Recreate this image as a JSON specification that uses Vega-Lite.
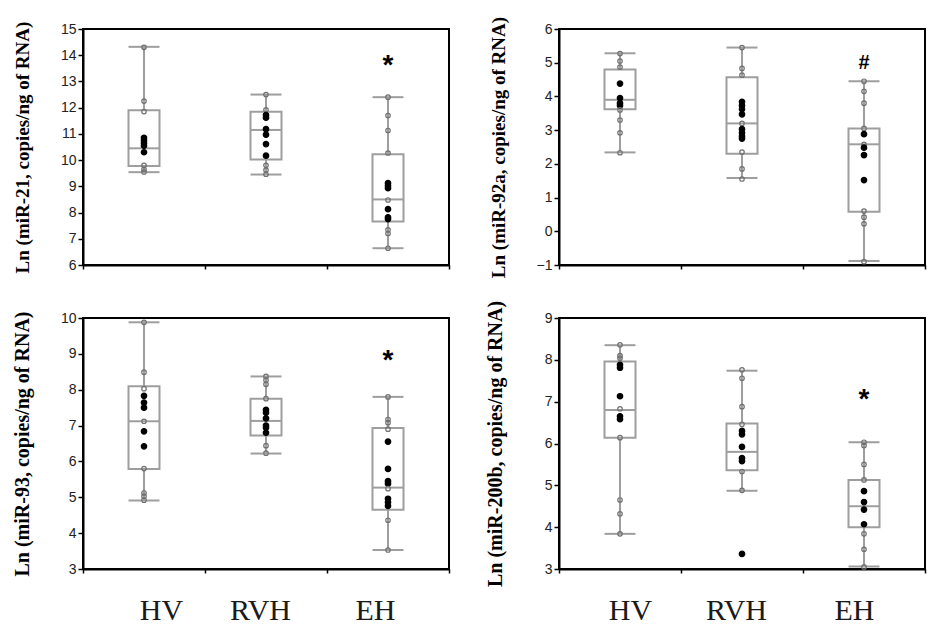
{
  "$schema": "https://vega.github.io/schema/vega-lite/v6.json",
  "padding": {"left": 10, "top": 15, "right": 0, "bottom": 0},
  "background": "#ffffff",
  "datasets": {
    "pts": [
      {"panel": "miR-21", "group": "HV", "value": 14.3, "kind": "o"},
      {"panel": "miR-21", "group": "HV", "value": 12.25, "kind": "o"},
      {"panel": "miR-21", "group": "HV", "value": 11.85, "kind": "o"},
      {"panel": "miR-21", "group": "HV", "value": 10.85, "kind": "b"},
      {"panel": "miR-21", "group": "HV", "value": 10.75, "kind": "b"},
      {"panel": "miR-21", "group": "HV", "value": 10.65, "kind": "b"},
      {"panel": "miR-21", "group": "HV", "value": 10.55, "kind": "b"},
      {"panel": "miR-21", "group": "HV", "value": 10.3, "kind": "b"},
      {"panel": "miR-21", "group": "HV", "value": 9.8, "kind": "o"},
      {"panel": "miR-21", "group": "HV", "value": 9.65, "kind": "o"},
      {"panel": "miR-21", "group": "HV", "value": 9.55, "kind": "o"},
      {"panel": "miR-21", "group": "RVH", "value": 12.5, "kind": "o"},
      {"panel": "miR-21", "group": "RVH", "value": 11.92, "kind": "o"},
      {"panel": "miR-21", "group": "RVH", "value": 11.72, "kind": "b"},
      {"panel": "miR-21", "group": "RVH", "value": 11.62, "kind": "b"},
      {"panel": "miR-21", "group": "RVH", "value": 11.18, "kind": "b"},
      {"panel": "miR-21", "group": "RVH", "value": 10.97, "kind": "b"},
      {"panel": "miR-21", "group": "RVH", "value": 10.61, "kind": "b"},
      {"panel": "miR-21", "group": "RVH", "value": 10.17, "kind": "b"},
      {"panel": "miR-21", "group": "RVH", "value": 9.8, "kind": "o"},
      {"panel": "miR-21", "group": "RVH", "value": 9.62, "kind": "o"},
      {"panel": "miR-21", "group": "RVH", "value": 9.46, "kind": "o"},
      {"panel": "miR-21", "group": "EH", "value": 12.4, "kind": "o"},
      {"panel": "miR-21", "group": "EH", "value": 11.7, "kind": "o"},
      {"panel": "miR-21", "group": "EH", "value": 11.13, "kind": "o"},
      {"panel": "miR-21", "group": "EH", "value": 10.27, "kind": "o"},
      {"panel": "miR-21", "group": "EH", "value": 9.12, "kind": "b"},
      {"panel": "miR-21", "group": "EH", "value": 9.02, "kind": "b"},
      {"panel": "miR-21", "group": "EH", "value": 8.93, "kind": "b"},
      {"panel": "miR-21", "group": "EH", "value": 8.48, "kind": "o"},
      {"panel": "miR-21", "group": "EH", "value": 8.13, "kind": "b"},
      {"panel": "miR-21", "group": "EH", "value": 7.82, "kind": "b"},
      {"panel": "miR-21", "group": "EH", "value": 7.75, "kind": "b"},
      {"panel": "miR-21", "group": "EH", "value": 7.34, "kind": "o"},
      {"panel": "miR-21", "group": "EH", "value": 7.2, "kind": "o"},
      {"panel": "miR-21", "group": "EH", "value": 6.64, "kind": "o"},
      {"panel": "miR-92a", "group": "HV", "value": 5.27, "kind": "o"},
      {"panel": "miR-92a", "group": "HV", "value": 5.05, "kind": "o"},
      {"panel": "miR-92a", "group": "HV", "value": 4.87, "kind": "o"},
      {"panel": "miR-92a", "group": "HV", "value": 4.38, "kind": "b"},
      {"panel": "miR-92a", "group": "HV", "value": 3.95, "kind": "b"},
      {"panel": "miR-92a", "group": "HV", "value": 3.8, "kind": "b"},
      {"panel": "miR-92a", "group": "HV", "value": 3.73, "kind": "b"},
      {"panel": "miR-92a", "group": "HV", "value": 3.6, "kind": "o"},
      {"panel": "miR-92a", "group": "HV", "value": 3.3, "kind": "o"},
      {"panel": "miR-92a", "group": "HV", "value": 2.92, "kind": "o"},
      {"panel": "miR-92a", "group": "HV", "value": 2.33, "kind": "o"},
      {"panel": "miR-92a", "group": "RVH", "value": 5.45, "kind": "o"},
      {"panel": "miR-92a", "group": "RVH", "value": 4.83, "kind": "o"},
      {"panel": "miR-92a", "group": "RVH", "value": 4.63, "kind": "o"},
      {"panel": "miR-92a", "group": "RVH", "value": 3.84, "kind": "b"},
      {"panel": "miR-92a", "group": "RVH", "value": 3.73, "kind": "b"},
      {"panel": "miR-92a", "group": "RVH", "value": 3.62, "kind": "b"},
      {"panel": "miR-92a", "group": "RVH", "value": 3.47, "kind": "b"},
      {"panel": "miR-92a", "group": "RVH", "value": 3.2, "kind": "o"},
      {"panel": "miR-92a", "group": "RVH", "value": 3.03, "kind": "b"},
      {"panel": "miR-92a", "group": "RVH", "value": 2.92, "kind": "b"},
      {"panel": "miR-92a", "group": "RVH", "value": 2.82, "kind": "b"},
      {"panel": "miR-92a", "group": "RVH", "value": 2.75, "kind": "b"},
      {"panel": "miR-92a", "group": "RVH", "value": 2.35, "kind": "o"},
      {"panel": "miR-92a", "group": "RVH", "value": 1.85, "kind": "o"},
      {"panel": "miR-92a", "group": "RVH", "value": 1.55, "kind": "o"},
      {"panel": "miR-92a", "group": "EH", "value": 4.45, "kind": "o"},
      {"panel": "miR-92a", "group": "EH", "value": 4.15, "kind": "o"},
      {"panel": "miR-92a", "group": "EH", "value": 3.8, "kind": "o"},
      {"panel": "miR-92a", "group": "EH", "value": 3.05, "kind": "o"},
      {"panel": "miR-92a", "group": "EH", "value": 2.88, "kind": "b"},
      {"panel": "miR-92a", "group": "EH", "value": 2.58, "kind": "o"},
      {"panel": "miR-92a", "group": "EH", "value": 2.48, "kind": "b"},
      {"panel": "miR-92a", "group": "EH", "value": 2.26, "kind": "b"},
      {"panel": "miR-92a", "group": "EH", "value": 1.52, "kind": "b"},
      {"panel": "miR-92a", "group": "EH", "value": 0.6, "kind": "o"},
      {"panel": "miR-92a", "group": "EH", "value": 0.42, "kind": "o"},
      {"panel": "miR-92a", "group": "EH", "value": 0.22, "kind": "o"},
      {"panel": "miR-92a", "group": "EH", "value": -0.9, "kind": "o"},
      {"panel": "miR-93", "group": "HV", "value": 9.88, "kind": "o"},
      {"panel": "miR-93", "group": "HV", "value": 8.49, "kind": "o"},
      {"panel": "miR-93", "group": "HV", "value": 8.03, "kind": "o"},
      {"panel": "miR-93", "group": "HV", "value": 7.83, "kind": "b"},
      {"panel": "miR-93", "group": "HV", "value": 7.64, "kind": "b"},
      {"panel": "miR-93", "group": "HV", "value": 7.5, "kind": "b"},
      {"panel": "miR-93", "group": "HV", "value": 7.12, "kind": "o"},
      {"panel": "miR-93", "group": "HV", "value": 6.84, "kind": "b"},
      {"panel": "miR-93", "group": "HV", "value": 6.42, "kind": "b"},
      {"panel": "miR-93", "group": "HV", "value": 5.8, "kind": "o"},
      {"panel": "miR-93", "group": "HV", "value": 5.12, "kind": "o"},
      {"panel": "miR-93", "group": "HV", "value": 5.03, "kind": "o"},
      {"panel": "miR-93", "group": "HV", "value": 4.92, "kind": "o"},
      {"panel": "miR-93", "group": "RVH", "value": 8.37, "kind": "o"},
      {"panel": "miR-93", "group": "RVH", "value": 8.27, "kind": "o"},
      {"panel": "miR-93", "group": "RVH", "value": 8.15, "kind": "o"},
      {"panel": "miR-93", "group": "RVH", "value": 7.75, "kind": "o"},
      {"panel": "miR-93", "group": "RVH", "value": 7.44, "kind": "b"},
      {"panel": "miR-93", "group": "RVH", "value": 7.36, "kind": "b"},
      {"panel": "miR-93", "group": "RVH", "value": 7.2, "kind": "b"},
      {"panel": "miR-93", "group": "RVH", "value": 7.0, "kind": "b"},
      {"panel": "miR-93", "group": "RVH", "value": 6.94, "kind": "b"},
      {"panel": "miR-93", "group": "RVH", "value": 6.8, "kind": "b"},
      {"panel": "miR-93", "group": "RVH", "value": 6.44, "kind": "o"},
      {"panel": "miR-93", "group": "RVH", "value": 6.23, "kind": "o"},
      {"panel": "miR-93", "group": "EH", "value": 7.8, "kind": "o"},
      {"panel": "miR-93", "group": "EH", "value": 7.17, "kind": "o"},
      {"panel": "miR-93", "group": "EH", "value": 7.08, "kind": "o"},
      {"panel": "miR-93", "group": "EH", "value": 6.9, "kind": "o"},
      {"panel": "miR-93", "group": "EH", "value": 6.55, "kind": "b"},
      {"panel": "miR-93", "group": "EH", "value": 5.79, "kind": "b"},
      {"panel": "miR-93", "group": "EH", "value": 5.45, "kind": "b"},
      {"panel": "miR-93", "group": "EH", "value": 5.38, "kind": "b"},
      {"panel": "miR-93", "group": "EH", "value": 5.24, "kind": "o"},
      {"panel": "miR-93", "group": "EH", "value": 4.96, "kind": "b"},
      {"panel": "miR-93", "group": "EH", "value": 4.86, "kind": "b"},
      {"panel": "miR-93", "group": "EH", "value": 4.76, "kind": "b"},
      {"panel": "miR-93", "group": "EH", "value": 4.36, "kind": "o"},
      {"panel": "miR-93", "group": "EH", "value": 3.53, "kind": "o"},
      {"panel": "miR-200b", "group": "HV", "value": 8.36, "kind": "o"},
      {"panel": "miR-200b", "group": "HV", "value": 8.1, "kind": "o"},
      {"panel": "miR-200b", "group": "HV", "value": 8.04, "kind": "o"},
      {"panel": "miR-200b", "group": "HV", "value": 7.88, "kind": "b"},
      {"panel": "miR-200b", "group": "HV", "value": 7.81, "kind": "b"},
      {"panel": "miR-200b", "group": "HV", "value": 7.13, "kind": "b"},
      {"panel": "miR-200b", "group": "HV", "value": 6.83, "kind": "o"},
      {"panel": "miR-200b", "group": "HV", "value": 6.65, "kind": "b"},
      {"panel": "miR-200b", "group": "HV", "value": 6.58, "kind": "b"},
      {"panel": "miR-200b", "group": "HV", "value": 6.14, "kind": "o"},
      {"panel": "miR-200b", "group": "HV", "value": 4.65, "kind": "o"},
      {"panel": "miR-200b", "group": "HV", "value": 4.32, "kind": "o"},
      {"panel": "miR-200b", "group": "HV", "value": 3.84, "kind": "o"},
      {"panel": "miR-200b", "group": "RVH", "value": 7.76, "kind": "o"},
      {"panel": "miR-200b", "group": "RVH", "value": 7.56, "kind": "o"},
      {"panel": "miR-200b", "group": "RVH", "value": 6.88, "kind": "o"},
      {"panel": "miR-200b", "group": "RVH", "value": 6.46, "kind": "o"},
      {"panel": "miR-200b", "group": "RVH", "value": 6.3, "kind": "b"},
      {"panel": "miR-200b", "group": "RVH", "value": 6.22, "kind": "b"},
      {"panel": "miR-200b", "group": "RVH", "value": 5.92, "kind": "b"},
      {"panel": "miR-200b", "group": "RVH", "value": 5.65, "kind": "b"},
      {"panel": "miR-200b", "group": "RVH", "value": 5.58, "kind": "b"},
      {"panel": "miR-200b", "group": "RVH", "value": 5.33, "kind": "o"},
      {"panel": "miR-200b", "group": "RVH", "value": 4.88, "kind": "o"},
      {"panel": "miR-200b", "group": "RVH", "value": 3.36, "kind": "b"},
      {"panel": "miR-200b", "group": "EH", "value": 6.03, "kind": "o"},
      {"panel": "miR-200b", "group": "EH", "value": 5.95, "kind": "o"},
      {"panel": "miR-200b", "group": "EH", "value": 5.5, "kind": "o"},
      {"panel": "miR-200b", "group": "EH", "value": 5.13, "kind": "o"},
      {"panel": "miR-200b", "group": "EH", "value": 4.86, "kind": "b"},
      {"panel": "miR-200b", "group": "EH", "value": 4.6, "kind": "b"},
      {"panel": "miR-200b", "group": "EH", "value": 4.42, "kind": "b"},
      {"panel": "miR-200b", "group": "EH", "value": 4.07, "kind": "b"},
      {"panel": "miR-200b", "group": "EH", "value": 3.84, "kind": "o"},
      {"panel": "miR-200b", "group": "EH", "value": 3.47, "kind": "o"},
      {"panel": "miR-200b", "group": "EH", "value": 3.05, "kind": "o"}
    ],
    "box": [
      {"panel": "miR-21", "group": "HV", "low": 9.54, "q1": 9.78, "median": 10.45, "q3": 11.9, "high": 14.32},
      {"panel": "miR-21", "group": "RVH", "low": 9.45, "q1": 10.02, "median": 11.15, "q3": 11.84, "high": 12.5},
      {"panel": "miR-21", "group": "EH", "low": 6.64, "q1": 7.66, "median": 8.5, "q3": 10.22, "high": 12.4},
      {"panel": "miR-92a", "group": "HV", "low": 2.34, "q1": 3.62, "median": 3.9, "q3": 4.8, "high": 5.28},
      {"panel": "miR-92a", "group": "RVH", "low": 1.58, "q1": 2.3, "median": 3.2, "q3": 4.57, "high": 5.45},
      {"panel": "miR-92a", "group": "EH", "low": -0.88, "q1": 0.58, "median": 2.58, "q3": 3.05, "high": 4.45},
      {"panel": "miR-93", "group": "HV", "low": 4.91, "q1": 5.79, "median": 7.12, "q3": 8.1, "high": 9.88},
      {"panel": "miR-93", "group": "RVH", "low": 6.22, "q1": 6.72, "median": 7.13, "q3": 7.75, "high": 8.37},
      {"panel": "miR-93", "group": "EH", "low": 3.53, "q1": 4.65, "median": 5.27, "q3": 6.93, "high": 7.8},
      {"panel": "miR-200b", "group": "HV", "low": 3.84, "q1": 6.14, "median": 6.8, "q3": 7.96, "high": 8.35},
      {"panel": "miR-200b", "group": "RVH", "low": 4.87, "q1": 5.36, "median": 5.8, "q3": 6.48, "high": 7.74},
      {"panel": "miR-200b", "group": "EH", "low": 3.06, "q1": 4.0, "median": 4.5, "q3": 5.13, "high": 6.03}
    ],
    "ann": [
      {"panel": "miR-21", "group": "EH", "value": 13.89, "label": "*"},
      {"panel": "miR-92a", "group": "EH", "value": 5.03, "label": "#"},
      {"panel": "miR-93", "group": "EH", "value": 9.02, "label": "*"},
      {"panel": "miR-200b", "group": "EH", "value": 7.24, "label": "*"}
    ]
  },
  "columns": 2,
  "bounds": "flush",
  "align": "each",
  "spacing": {"row": 53, "column": 110},
  "concat": [
    {
      "width": 366, "height": 236,
      "encoding": {"x": {"field": "group", "type": "nominal", "sort": ["HV", "RVH", "EH"], "scale": {"domain": ["HV", "RVH", "EH"], "paddingInner": 0, "paddingOuter": 0}, "axis": {"title": null, "labels": false, "tickBand": "extent", "tickSize": 4}}},
      "layer": [
        {"data": {"name": "box"}, "transform": [{"filter": "datum.panel === 'miR-21'"}], "mark": {"type": "rule", "color": "#9e9e9e", "strokeWidth": 2},
         "encoding": {"y": {"field": "low", "type": "quantitative", "title": "Ln (miR-21, copies/ng of RNA)", "scale": {"domain": [6, 15], "nice": false, "zero": false}, "axis": {"values": [6, 7, 8, 9, 10, 11, 12, 13, 14, 15], "titleFontSize": 19}}, "y2": {"field": "high"}}},
        {"data": {"name": "box"}, "transform": [{"filter": "datum.panel === 'miR-21'"}], "mark": {"type": "bar", "width": 31, "fill": "#ffffff", "stroke": "#9e9e9e", "strokeWidth": 2},
         "encoding": {"y": {"field": "q1", "type": "quantitative", "title": "Ln (miR-21, copies/ng of RNA)", "axis": {"values": [6, 7, 8, 9, 10, 11, 12, 13, 14, 15], "titleFontSize": 19}}, "y2": {"field": "q3"}}},
        {"data": {"name": "box"}, "transform": [{"filter": "datum.panel === 'miR-21'"}], "mark": {"type": "tick", "size": 31, "thickness": 2, "color": "#9e9e9e", "opacity": 1},
         "encoding": {"y": {"field": "median", "type": "quantitative", "title": "Ln (miR-21, copies/ng of RNA)", "axis": {"values": [6, 7, 8, 9, 10, 11, 12, 13, 14, 15], "titleFontSize": 19}}}},
        {"data": {"name": "box"}, "transform": [{"filter": "datum.panel === 'miR-21'"}], "mark": {"type": "tick", "size": 31, "thickness": 2, "color": "#9e9e9e", "opacity": 1},
         "encoding": {"y": {"field": "low", "type": "quantitative", "title": "Ln (miR-21, copies/ng of RNA)", "axis": {"values": [6, 7, 8, 9, 10, 11, 12, 13, 14, 15], "titleFontSize": 19}}}},
        {"data": {"name": "box"}, "transform": [{"filter": "datum.panel === 'miR-21'"}], "mark": {"type": "tick", "size": 31, "thickness": 2, "color": "#9e9e9e", "opacity": 1},
         "encoding": {"y": {"field": "high", "type": "quantitative", "title": "Ln (miR-21, copies/ng of RNA)", "axis": {"values": [6, 7, 8, 9, 10, 11, 12, 13, 14, 15], "titleFontSize": 19}}}},
        {"data": {"name": "pts"}, "transform": [{"filter": "datum.panel === 'miR-21'"}], "mark": {"type": "point", "shape": "circle", "strokeWidth": 1.2, "opacity": 1},
         "encoding": {"y": {"field": "value", "type": "quantitative", "title": "Ln (miR-21, copies/ng of RNA)", "axis": {"values": [6, 7, 8, 9, 10, 11, 12, 13, 14, 15], "titleFontSize": 19}},
           "fill": {"field": "kind", "type": "nominal", "scale": {"domain": ["b", "o"], "range": ["#000000", "transparent"]}, "legend": null},
           "stroke": {"field": "kind", "type": "nominal", "scale": {"domain": ["b", "o"], "range": ["#000000", "#707070"]}, "legend": null},
           "size": {"field": "kind", "type": "nominal", "scale": {"domain": ["b", "o"], "range": [30, 20]}, "legend": null}}},
        {"data": {"name": "ann"}, "transform": [{"filter": "datum.panel === 'miR-21'"}], "mark": {"type": "text", "font": "Liberation Sans", "fontSize": 28, "fontWeight": "bold", "baseline": "alphabetic", "dy": 16, "color": "#000000"},
         "encoding": {"y": {"field": "value", "type": "quantitative", "title": "Ln (miR-21, copies/ng of RNA)", "axis": {"values": [6, 7, 8, 9, 10, 11, 12, 13, 14, 15], "titleFontSize": 19}}, "text": {"field": "label"}}}
      ]
    },
    {
      "width": 366, "height": 236,
      "encoding": {"x": {"field": "group", "type": "nominal", "sort": ["HV", "RVH", "EH"], "scale": {"domain": ["HV", "RVH", "EH"], "paddingInner": 0, "paddingOuter": 0}, "axis": {"title": null, "labels": false, "tickBand": "extent", "tickSize": 4}}},
      "layer": [
        {"data": {"name": "box"}, "transform": [{"filter": "datum.panel === 'miR-92a'"}], "mark": {"type": "rule", "color": "#9e9e9e", "strokeWidth": 2},
         "encoding": {"y": {"field": "low", "type": "quantitative", "title": "Ln (miR-92a, copies/ng of RNA)", "scale": {"domain": [-1, 6], "nice": false, "zero": false}, "axis": {"values": [-1, 0, 1, 2, 3, 4, 5, 6], "titleFontSize": 19}}, "y2": {"field": "high"}}},
        {"data": {"name": "box"}, "transform": [{"filter": "datum.panel === 'miR-92a'"}], "mark": {"type": "bar", "width": 31, "fill": "#ffffff", "stroke": "#9e9e9e", "strokeWidth": 2},
         "encoding": {"y": {"field": "q1", "type": "quantitative", "title": "Ln (miR-92a, copies/ng of RNA)", "axis": {"values": [-1, 0, 1, 2, 3, 4, 5, 6], "titleFontSize": 19}}, "y2": {"field": "q3"}}},
        {"data": {"name": "box"}, "transform": [{"filter": "datum.panel === 'miR-92a'"}], "mark": {"type": "tick", "size": 31, "thickness": 2, "color": "#9e9e9e", "opacity": 1},
         "encoding": {"y": {"field": "median", "type": "quantitative", "title": "Ln (miR-92a, copies/ng of RNA)", "axis": {"values": [-1, 0, 1, 2, 3, 4, 5, 6], "titleFontSize": 19}}}},
        {"data": {"name": "box"}, "transform": [{"filter": "datum.panel === 'miR-92a'"}], "mark": {"type": "tick", "size": 31, "thickness": 2, "color": "#9e9e9e", "opacity": 1},
         "encoding": {"y": {"field": "low", "type": "quantitative", "title": "Ln (miR-92a, copies/ng of RNA)", "axis": {"values": [-1, 0, 1, 2, 3, 4, 5, 6], "titleFontSize": 19}}}},
        {"data": {"name": "box"}, "transform": [{"filter": "datum.panel === 'miR-92a'"}], "mark": {"type": "tick", "size": 31, "thickness": 2, "color": "#9e9e9e", "opacity": 1},
         "encoding": {"y": {"field": "high", "type": "quantitative", "title": "Ln (miR-92a, copies/ng of RNA)", "axis": {"values": [-1, 0, 1, 2, 3, 4, 5, 6], "titleFontSize": 19}}}},
        {"data": {"name": "pts"}, "transform": [{"filter": "datum.panel === 'miR-92a'"}], "mark": {"type": "point", "shape": "circle", "strokeWidth": 1.2, "opacity": 1},
         "encoding": {"y": {"field": "value", "type": "quantitative", "title": "Ln (miR-92a, copies/ng of RNA)", "axis": {"values": [-1, 0, 1, 2, 3, 4, 5, 6], "titleFontSize": 19}},
           "fill": {"field": "kind", "type": "nominal", "scale": {"domain": ["b", "o"], "range": ["#000000", "transparent"]}, "legend": null},
           "stroke": {"field": "kind", "type": "nominal", "scale": {"domain": ["b", "o"], "range": ["#000000", "#707070"]}, "legend": null},
           "size": {"field": "kind", "type": "nominal", "scale": {"domain": ["b", "o"], "range": [30, 20]}, "legend": null}}},
        {"data": {"name": "ann"}, "transform": [{"filter": "datum.panel === 'miR-92a'"}], "mark": {"type": "text", "font": "Liberation Sans", "fontSize": 20, "fontWeight": "bold", "baseline": "alphabetic", "dy": 7, "color": "#000000"},
         "encoding": {"y": {"field": "value", "type": "quantitative", "title": "Ln (miR-92a, copies/ng of RNA)", "axis": {"values": [-1, 0, 1, 2, 3, 4, 5, 6], "titleFontSize": 19}}, "text": {"field": "label"}}}
      ]
    },
    {
      "width": 366, "height": 251,
      "encoding": {"x": {"field": "group", "type": "nominal", "sort": ["HV", "RVH", "EH"], "scale": {"domain": ["HV", "RVH", "EH"], "paddingInner": 0, "paddingOuter": 0}, "axis": {"title": null, "labels": true, "labelAngle": 0, "labelFont": "Liberation Serif", "labelFontSize": 30, "labelColor": "#1a1a1a", "labelPadding": 22, "labelOffset": {"condition": [{"test": "datum.value === 'HV'", "value": 17}, {"test": "datum.value === 'RVH'", "value": -6}], "value": -13}, "tickBand": "extent", "tickSize": 4}}},
      "layer": [
        {"data": {"name": "box"}, "transform": [{"filter": "datum.panel === 'miR-93'"}], "mark": {"type": "rule", "color": "#9e9e9e", "strokeWidth": 2},
         "encoding": {"y": {"field": "low", "type": "quantitative", "title": "Ln (miR-93, copies/ng of RNA)", "scale": {"domain": [3, 10], "nice": false, "zero": false}, "axis": {"values": [3, 4, 5, 6, 7, 8, 9, 10], "titleFontSize": 20}}, "y2": {"field": "high"}}},
        {"data": {"name": "box"}, "transform": [{"filter": "datum.panel === 'miR-93'"}], "mark": {"type": "bar", "width": 31, "fill": "#ffffff", "stroke": "#9e9e9e", "strokeWidth": 2},
         "encoding": {"y": {"field": "q1", "type": "quantitative", "title": "Ln (miR-93, copies/ng of RNA)", "axis": {"values": [3, 4, 5, 6, 7, 8, 9, 10], "titleFontSize": 20}}, "y2": {"field": "q3"}}},
        {"data": {"name": "box"}, "transform": [{"filter": "datum.panel === 'miR-93'"}], "mark": {"type": "tick", "size": 31, "thickness": 2, "color": "#9e9e9e", "opacity": 1},
         "encoding": {"y": {"field": "median", "type": "quantitative", "title": "Ln (miR-93, copies/ng of RNA)", "axis": {"values": [3, 4, 5, 6, 7, 8, 9, 10], "titleFontSize": 20}}}},
        {"data": {"name": "box"}, "transform": [{"filter": "datum.panel === 'miR-93'"}], "mark": {"type": "tick", "size": 31, "thickness": 2, "color": "#9e9e9e", "opacity": 1},
         "encoding": {"y": {"field": "low", "type": "quantitative", "title": "Ln (miR-93, copies/ng of RNA)", "axis": {"values": [3, 4, 5, 6, 7, 8, 9, 10], "titleFontSize": 20}}}},
        {"data": {"name": "box"}, "transform": [{"filter": "datum.panel === 'miR-93'"}], "mark": {"type": "tick", "size": 31, "thickness": 2, "color": "#9e9e9e", "opacity": 1},
         "encoding": {"y": {"field": "high", "type": "quantitative", "title": "Ln (miR-93, copies/ng of RNA)", "axis": {"values": [3, 4, 5, 6, 7, 8, 9, 10], "titleFontSize": 20}}}},
        {"data": {"name": "pts"}, "transform": [{"filter": "datum.panel === 'miR-93'"}], "mark": {"type": "point", "shape": "circle", "strokeWidth": 1.2, "opacity": 1},
         "encoding": {"y": {"field": "value", "type": "quantitative", "title": "Ln (miR-93, copies/ng of RNA)", "axis": {"values": [3, 4, 5, 6, 7, 8, 9, 10], "titleFontSize": 20}},
           "fill": {"field": "kind", "type": "nominal", "scale": {"domain": ["b", "o"], "range": ["#000000", "transparent"]}, "legend": null},
           "stroke": {"field": "kind", "type": "nominal", "scale": {"domain": ["b", "o"], "range": ["#000000", "#707070"]}, "legend": null},
           "size": {"field": "kind", "type": "nominal", "scale": {"domain": ["b", "o"], "range": [30, 20]}, "legend": null}}},
        {"data": {"name": "ann"}, "transform": [{"filter": "datum.panel === 'miR-93'"}], "mark": {"type": "text", "font": "Liberation Sans", "fontSize": 28, "fontWeight": "bold", "baseline": "alphabetic", "dy": 16, "color": "#000000"},
         "encoding": {"y": {"field": "value", "type": "quantitative", "title": "Ln (miR-93, copies/ng of RNA)", "axis": {"values": [3, 4, 5, 6, 7, 8, 9, 10], "titleFontSize": 20}}, "text": {"field": "label"}}}
      ]
    },
    {
      "width": 366, "height": 251,
      "encoding": {"x": {"field": "group", "type": "nominal", "sort": ["HV", "RVH", "EH"], "scale": {"domain": ["HV", "RVH", "EH"], "paddingInner": 0, "paddingOuter": 0}, "axis": {"title": null, "labels": true, "labelAngle": 0, "labelFont": "Liberation Serif", "labelFontSize": 30, "labelColor": "#1a1a1a", "labelPadding": 22, "labelOffset": {"condition": [{"test": "datum.value === 'HV'", "value": 10}, {"test": "datum.value === 'RVH'", "value": -6}], "value": -10}, "tickBand": "extent", "tickSize": 4}}},
      "layer": [
        {"data": {"name": "box"}, "transform": [{"filter": "datum.panel === 'miR-200b'"}], "mark": {"type": "rule", "color": "#9e9e9e", "strokeWidth": 2},
         "encoding": {"y": {"field": "low", "type": "quantitative", "title": "Ln (miR-200b, copies/ng of RNA)", "scale": {"domain": [3, 9], "nice": false, "zero": false}, "axis": {"values": [3, 4, 5, 6, 7, 8, 9], "titleFontSize": 20, "titleX": -58}}, "y2": {"field": "high"}}},
        {"data": {"name": "box"}, "transform": [{"filter": "datum.panel === 'miR-200b'"}], "mark": {"type": "bar", "width": 31, "fill": "#ffffff", "stroke": "#9e9e9e", "strokeWidth": 2},
         "encoding": {"y": {"field": "q1", "type": "quantitative", "title": "Ln (miR-200b, copies/ng of RNA)", "axis": {"values": [3, 4, 5, 6, 7, 8, 9], "titleFontSize": 20, "titleX": -58}}, "y2": {"field": "q3"}}},
        {"data": {"name": "box"}, "transform": [{"filter": "datum.panel === 'miR-200b'"}], "mark": {"type": "tick", "size": 31, "thickness": 2, "color": "#9e9e9e", "opacity": 1},
         "encoding": {"y": {"field": "median", "type": "quantitative", "title": "Ln (miR-200b, copies/ng of RNA)", "axis": {"values": [3, 4, 5, 6, 7, 8, 9], "titleFontSize": 20, "titleX": -58}}}},
        {"data": {"name": "box"}, "transform": [{"filter": "datum.panel === 'miR-200b'"}], "mark": {"type": "tick", "size": 31, "thickness": 2, "color": "#9e9e9e", "opacity": 1},
         "encoding": {"y": {"field": "low", "type": "quantitative", "title": "Ln (miR-200b, copies/ng of RNA)", "axis": {"values": [3, 4, 5, 6, 7, 8, 9], "titleFontSize": 20, "titleX": -58}}}},
        {"data": {"name": "box"}, "transform": [{"filter": "datum.panel === 'miR-200b'"}], "mark": {"type": "tick", "size": 31, "thickness": 2, "color": "#9e9e9e", "opacity": 1},
         "encoding": {"y": {"field": "high", "type": "quantitative", "title": "Ln (miR-200b, copies/ng of RNA)", "axis": {"values": [3, 4, 5, 6, 7, 8, 9], "titleFontSize": 20, "titleX": -58}}}},
        {"data": {"name": "pts"}, "transform": [{"filter": "datum.panel === 'miR-200b'"}], "mark": {"type": "point", "shape": "circle", "strokeWidth": 1.2, "opacity": 1},
         "encoding": {"y": {"field": "value", "type": "quantitative", "title": "Ln (miR-200b, copies/ng of RNA)", "axis": {"values": [3, 4, 5, 6, 7, 8, 9], "titleFontSize": 20, "titleX": -58}},
           "fill": {"field": "kind", "type": "nominal", "scale": {"domain": ["b", "o"], "range": ["#000000", "transparent"]}, "legend": null},
           "stroke": {"field": "kind", "type": "nominal", "scale": {"domain": ["b", "o"], "range": ["#000000", "#707070"]}, "legend": null},
           "size": {"field": "kind", "type": "nominal", "scale": {"domain": ["b", "o"], "range": [30, 20]}, "legend": null}}},
        {"data": {"name": "ann"}, "transform": [{"filter": "datum.panel === 'miR-200b'"}], "mark": {"type": "text", "font": "Liberation Sans", "fontSize": 28, "fontWeight": "bold", "baseline": "alphabetic", "dy": 16, "color": "#000000"},
         "encoding": {"y": {"field": "value", "type": "quantitative", "title": "Ln (miR-200b, copies/ng of RNA)", "axis": {"values": [3, 4, 5, 6, 7, 8, 9], "titleFontSize": 20, "titleX": -58}}, "text": {"field": "label"}}}
      ]
    }
  ],
  "config": {
    "view": {"stroke": "#000000", "strokeWidth": 2},
    "axis": {"grid": false, "domainColor": "#000000", "domainWidth": 2, "tickColor": "#000000", "tickWidth": 1.5},
    "axisY": {"labelFont": "Liberation Sans", "labelFontSize": 14, "labelColor": "#222222", "labelPadding": 2, "labelOverlap": false, "tickSize": 5, "titleX": -55, "titleBaseline": "alphabetic", "titleFont": "Liberation Serif", "titleFontWeight": "bold", "titleColor": "#000000"}
  }
}
